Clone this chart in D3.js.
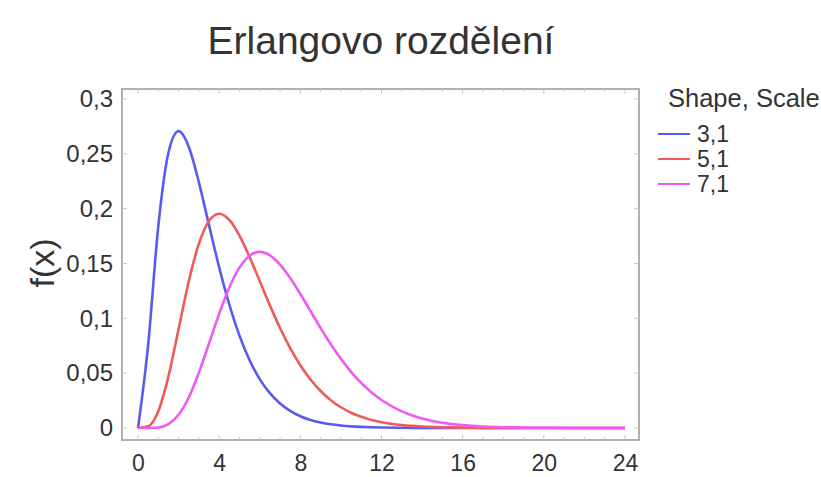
<!DOCTYPE html>
<html><head><meta charset="utf-8">
<script src="https://cdn.jsdelivr.net/npm/d3@7"></script>
<style>body{margin:0;background:#fff;overflow:hidden}svg{display:block;font-family:"Liberation Sans",Arial,sans-serif}</style>
</head><body><svg id="c" width="821" height="477"></svg>
<script>
const title = "Erlangovo rozdělení";
const yLabel = "f(x)";
const legendTitle = "Shape, Scale";
const seriesNames = ["3,1", "5,1", "7,1"];
const seriesColors = ["#5a5af2", "#f05a5a", "#f05af0"];
const xValues = [0,0.5,1,1.5,2,2.5,3,3.5,4,4.5,5,5.5,6,6.5,7,7.5,8,8.5,9,9.5,10,10.5,11,11.5,12,13,14,15,16,17,18,19,20,22,24];
const shape3 = [0,0.07582,0.18394,0.25102,0.27067,0.25652,0.22404,0.18496,0.14653,0.11248,0.08422,0.06181,0.04462,0.03176,0.02234,0.01556,0.01073,0.00735,0.00500,0.00338,0.00227,0.00152,0.00101,0.00067,0.00044,0.00019,0.00008,0.00003,0.00001,0,0,0,0,0,0];
const shape5 = [0,0.00158,0.01533,0.04707,0.09022,0.13360,0.16803,0.18881,0.19537,0.18981,0.17547,0.15582,0.13386,0.11182,0.09123,0.07292,0.05725,0.04426,0.03374,0.02540,0.01892,0.01395,0.01019,0.00738,0.00531,0.00269,0.00133,0.00065,0.00031,0.00014,0.00007,0.00003,0.00001,0,0];
const shape7 = [0,0.00001,0.00051,0.00353,0.01203,0.02783,0.05041,0.07710,0.10420,0.12812,0.14622,0.15712,0.16062,0.15748,0.14900,0.13672,0.12214,0.10658,0.09109,0.07642,0.06306,0.05125,0.04110,0.03254,0.02548,0.01515,0.00870,0.00484,0.00262,0.00139,0.00072,0.00037,0.00018,0.00004,0.00001];
const xTicks = [0,4,8,12,16,20,24];
const yTicks = [0,0.05,0.1,0.15,0.2,0.25,0.3];
const yTickLabels = ["0","0,05","0,1","0,15","0,2","0,25","0,3"];

const series = [shape3, shape5, shape7];
const svg = d3.select("#c");
const x = d3.scaleLinear().domain([0,24]).range([138,625]);
const y = d3.scaleLinear().domain([0,0.3]).range([428,99]);
const frame = {l:122, r:639, t:89, b:440};
const txt = "#333";

svg.append("text").attr("x",381).attr("y",54).attr("text-anchor","middle")
  .attr("font-size",39).attr("fill",txt).text(title);

svg.append("text").attr("transform","translate(54,263) rotate(-90)").attr("text-anchor","middle")
  .attr("font-size",34).attr("fill",txt).text(yLabel);

svg.append("rect").attr("x",frame.l).attr("y",frame.t).attr("width",frame.r-frame.l).attr("height",frame.b-frame.t)
  .attr("fill","none").attr("stroke","#b0b0b0").attr("stroke-width",2);

d3.range(0,25,1).forEach(v=>{
  const len = (v%4===0)?5:3;
  svg.append("line").attr("x1",x(v)).attr("x2",x(v)).attr("y1",frame.t).attr("y2",frame.t+len).attr("stroke","#c4c4c4");
  svg.append("line").attr("x1",x(v)).attr("x2",x(v)).attr("y1",frame.b).attr("y2",frame.b-len).attr("stroke","#c4c4c4");
});
yTicks.forEach(v=>{
  svg.append("line").attr("x1",frame.l).attr("x2",frame.l+5).attr("y1",y(v)).attr("y2",y(v)).attr("stroke","#c4c4c4");
  svg.append("line").attr("x1",frame.r).attr("x2",frame.r-5).attr("y1",y(v)).attr("y2",y(v)).attr("stroke","#c4c4c4");
});

const xAxis = d3.axisBottom(x).tickValues(xTicks).tickSize(0).tickPadding(0).tickFormat(d3.format("d"));
const gx = svg.append("g").attr("transform","translate(0,455)").call(xAxis);
gx.select(".domain").remove();
gx.selectAll("text").attr("font-size",23).attr("fill",txt).attr("font-family","Liberation Sans, Arial, sans-serif");

const yAxis = d3.axisLeft(y).tickValues(yTicks).tickSize(0).tickPadding(0).tickFormat((d,i)=>yTickLabels[i]);
const gy = svg.append("g").attr("transform","translate(113,0)").call(yAxis);
gy.select(".domain").remove();
gy.selectAll("text").attr("font-size",24).attr("fill",txt).attr("font-family","Liberation Sans, Arial, sans-serif");

const line = d3.line().x((d,i)=>x(xValues[i])).y(d=>y(d)).curve(d3.curveMonotoneX);
series.forEach((s,i)=>{
  svg.append("path").datum(s).attr("d",line).attr("fill","none")
    .attr("stroke",seriesColors[i]).attr("stroke-width",2.6).attr("stroke-linejoin","round");
});

svg.append("text").attr("x",668).attr("y",107).attr("font-size",25.5).attr("fill",txt).text(legendTitle);
seriesNames.forEach((n,i)=>{
  const ly = 134 + i*25;
  svg.append("line").attr("x1",658).attr("x2",690).attr("y1",ly).attr("y2",ly)
    .attr("stroke",seriesColors[i]).attr("stroke-width",2);
  svg.append("text").attr("x",697).attr("y",ly+8).attr("font-size",23).attr("fill",txt).text(n);
});
</script></body></html>
